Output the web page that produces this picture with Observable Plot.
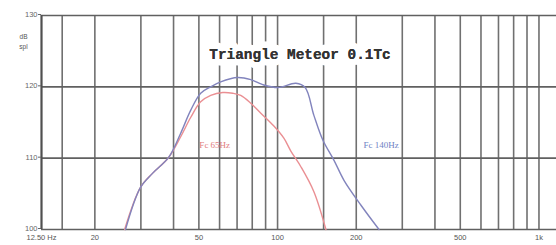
<!DOCTYPE html>
<html><head><meta charset="utf-8">
<script src="https://cdn.jsdelivr.net/npm/d3@7"></script>
<script src="https://cdn.jsdelivr.net/npm/@observablehq/plot@0.6"></script>
<style>
html,body{margin:0;padding:0;background:#fff;}
</style>
</head><body>
<div id="chart"></div>
<script>
const titleText = "Triangle Meteor 0.1Tc";
const yUnitLines = ["dB", "spl"];
const gridFreqs = [15,20,30,40,50,60,70,80,90,100,150,200,300,400,500,600,700,800,900,1000];
const dbTicks = [100,110,120,130];
const freqTicks = [12.5,20,50,100,200,500,1000];
const freqTickLabels = ["12.50 Hz","20","50","100","200","500","1k"];

// Fc 140Hz (blue)
const blueFreq = [26.2,29.9,33.3,38.3,42.6,46.5,50.8,55.5,60.6,70.4,79.0,87.8,100.3,117.5,127.5,137.7,149.1,164.4,179.5,208.5,244.4];
const blueDb   = [100,105.9,107.9,110.1,113.5,116.7,119.1,120.0,120.7,121.3,121.0,120.3,119.9,120.5,119.9,116.0,112.5,109.7,106.9,103.4,100];
// Fc 65Hz (red)
const redFreq = [26.0,29.9,33.3,38.3,42.6,46.5,50.8,55.5,61.7,67.4,72.3,79.0,86.3,96.8,105.7,112.4,122.8,137.7,153.1];
const redDb   = [100,105.9,107.9,110.1,113.0,115.7,117.9,118.8,119.2,119.1,118.8,117.7,116.3,114.5,112.8,111.0,108.8,105.3,100];

const labelText = ["Fc 65Hz", "Fc 140Hz"];
const labelFreq = [57.5, 249];
const labelDb = [111.8, 111.8];
const labelColor = ["#e27d7d", "#6f82c4"];

const blue = blueFreq.map((f,i)=>({f, db: blueDb[i]}));
const red = redFreq.map((f,i)=>({f, db: redDb[i]}));
const labels = labelText.map((t,i)=>({t, f: labelFreq[i], db: labelDb[i], c: labelColor[i]}));
const tickLabelOf = new Map(freqTicks.map((v,i)=>[v, freqTickLabels[i]]));

const chart = Plot.plot({
  width: 556,
  height: 245,
  marginLeft: 41,
  marginRight: 0,
  marginTop: 15,
  marginBottom: 16,
  style: {background: "#fff", fontFamily: "Liberation Sans, sans-serif", overflow: "visible"},
  x: {type: "log", domain: [12.5, 1167]},
  y: {domain: [100, 130]},
  marks: [
    Plot.ruleX(gridFreqs, {stroke: "#707070", strokeWidth: 1.6}),
    Plot.ruleY(dbTicks, {stroke: "#606060", strokeWidth: 1.6}),
    Plot.ruleX([12.5], {stroke: "#505050", strokeWidth: 2.2}),
    Plot.line(red, {x: "f", y: "db", stroke: "#ea8f93", strokeWidth: 1.4, curve: "catmull-rom"}),
    Plot.line(blue, {x: "f", y: "db", stroke: "#8284bd", strokeWidth: 1.4, curve: "catmull-rom"}),
    Plot.text(labels, {x: "f", y: "db", text: "t", fill: "c", fontSize: 9, fontFamily: "Liberation Serif, serif"}),
    Plot.text([titleText], {frameAnchor: "top", dx: 1, dy: 33, text: d => d, fontFamily: "Liberation Mono, monospace", fontWeight: "bold", fontSize: 14.4, fill: "#333", stroke: "#fff", strokeWidth: 13, strokeLinejoin: "round"}),
    Plot.text([titleText], {frameAnchor: "top", dx: 1, dy: 33, text: d => d, fontFamily: "Liberation Mono, monospace", fontWeight: "bold", fontSize: 14.4, fill: "#333"}),
    Plot.text([yUnitLines.join("\n")], {frameAnchor: "top-left", dx: -18, dy: 17, text: d => d, fontSize: 6.5, lineHeight: 1.5, fill: "#555", textAnchor: "middle"}),
    Plot.axisY({ticks: dbTicks, tickSize: 3, tickPadding: 1, fontSize: 7.5, dy: -1, color: "#666", label: null}),
    Plot.axisX({ticks: freqTicks, tickFormat: d => tickLabelOf.get(d), tickSize: 0, tickPadding: 5.5, fontSize: 7.5, color: "#555", label: null})
  ]
});
document.getElementById("chart").appendChild(chart);
</script>
</body></html>
